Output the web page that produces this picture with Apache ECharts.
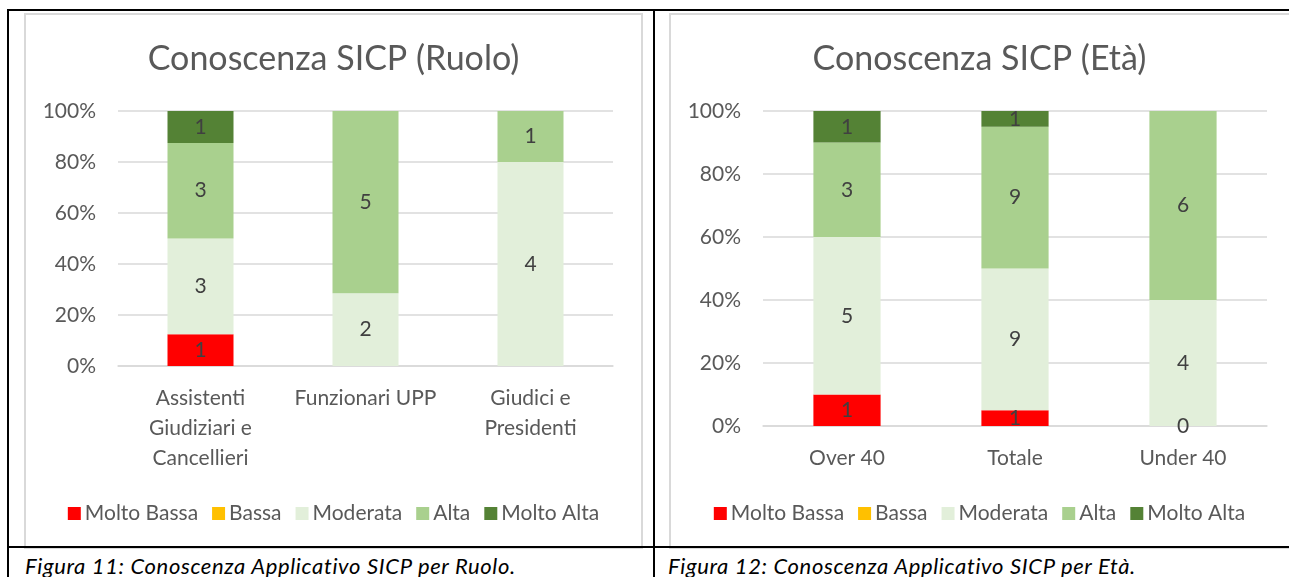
<!DOCTYPE html>
<html lang="it">
<head>
<meta charset="UTF-8" />
<title>Conoscenza SICP</title>
<style>
  body { margin: 0; background: #fff; }
  #page { position: relative; width: 1289px; height: 577px; overflow: hidden; font-family: Lato, "Liberation Sans", sans-serif; }
  .line { position: absolute; background: #000; }
  .frame { position: absolute; border: 2px solid #d9d9d9; box-sizing: border-box; }
  .chart { position: absolute; }
  .caption { position: absolute; font-style: italic; font-size: 22px; letter-spacing: 0.65px; color: #000; white-space: nowrap; }
</style>
</head>
<body>
<div id="page">
  <!-- cornici dei grafici -->
  <div class="frame" style="left:24px; top:13px; width:619px; height:536px"></div>
  <div class="frame" style="left:669px; top:13px; width:640px; height:536px"></div>
  <!-- grafici -->
  <div id="ruolo" class="chart" style="left:25px; top:14px; width:617px; height:533px"></div>
  <div id="eta" class="chart" style="left:670px; top:14px; width:619px; height:533px"></div>
  <!-- bordi della tabella -->
  <div class="line" style="left:7px; top:9px; width:1282px; height:2px"></div>
  <div class="line" style="left:7px; top:9px; width:2px; height:568px"></div>
  <div class="line" style="left:653px; top:9px; width:2px; height:568px"></div>
  <div class="line" style="left:7px; top:546px; width:1282px; height:2px"></div>
  <!-- didascalie -->
  <div class="caption" style="left:25px; top:552px">Figura 11: Conoscenza Applicativo SICP per Ruolo.</div>
  <div class="caption" style="left:668px; top:552px">Figura 12: Conoscenza Applicativo SICP per Età.</div>
</div>
<script src="https://cdn.jsdelivr.net/npm/echarts@6/dist/echarts.min.js"></script>
<script>
  // livelli di conoscenza (legenda)
  const levels = ["Molto Bassa", "Bassa", "Moderata", "Alta", "Molto Alta"];
  const levelColors = ["#ff0000", "#ffc000", "#e2efda", "#a9d08e", "#548235"];

  // Figura 11 - per ruolo (conteggi)
  const ruoloCats = ["Assistenti\nGiudiziari e\nCancellieri", "Funzionari UPP", "Giudici e\nPresidenti"];
  const ruoloMoltoBassa = [1, null, null];
  const ruoloBassa = [null, null, null];
  const ruoloModerata = [3, 2, 4];
  const ruoloAlta = [3, 5, 1];
  const ruoloMoltoAlta = [1, null, null];

  // Figura 12 - per età (conteggi)
  const etaCats = ["Over 40", "Totale", "Under 40"];
  const etaMoltoBassa = [1, 1, 0];
  const etaBassa = [null, null, null];
  const etaModerata = [5, 9, 4];
  const etaAlta = [3, 9, 6];
  const etaMoltoAlta = [1, 1, null];

  const yTicks = [0, 0.2, 0.4, 0.6, 0.8, 1];

  const textColor = "#595959";
  const font = "Lato, 'Liberation Sans', sans-serif";

  // crea le serie in percentuale, etichette con i conteggi
  function buildSeries(groups) {
    const totals = groups[0].map((_, j) =>
      groups.reduce((s, g) => s + (g[j] || 0), 0));
    return groups.map((g, i) => ({
      name: levels[i],
      type: "bar",
      stack: "tot",
      barWidth: "40%",
      itemStyle: { color: levelColors[i] },
      label: {
        show: true,
        position: "inside",
        color: "#404040",
        fontSize: 21,
        fontFamily: font,
        formatter: (p) => (g[p.dataIndex] == null ? "" : String(g[p.dataIndex]))
      },
      data: g.map((v, j) => (v == null ? "-" : v / totals[j]))
    }));
  }

  function makeOption(title, cats, groups, gridWidth, gridHeight) {
    return {
      animation: false,
      title: {
        text: title,
        left: "center",
        top: 23,
        textStyle: { color: textColor, fontSize: 34, fontWeight: "normal", fontFamily: font }
      },
      legend: {
        data: levels,
        left: "center",
        top: 484,
        icon: "rect",
        itemWidth: 13,
        itemHeight: 13,
        itemGap: 14,
        selectedMode: false,
        textStyle: { color: textColor, fontSize: 21, fontFamily: font, padding: [0, 0, 0, -1] }
      },
      grid: { left: 93, top: 97, width: gridWidth, height: gridHeight },
      xAxis: {
        type: "category",
        data: cats,
        axisLine: { lineStyle: { color: "#d9d9d9", width: 1.5 } },
        axisTick: { show: false },
        axisLabel: { color: textColor, fontSize: 21, fontFamily: font, lineHeight: 30, margin: 17, interval: 0 }
      },
      yAxis: {
        type: "value",
        min: yTicks[0],
        max: yTicks[yTicks.length - 1],
        interval: 0.2,
        axisLine: { show: false },
        axisTick: { show: false },
        splitLine: { lineStyle: { color: "#d9d9d9", width: 1.5 } },
        axisLabel: {
          color: textColor, fontSize: 21, fontFamily: font, margin: 22,
          formatter: (v) => Math.round(v * 100) + "%"
        }
      },
      series: buildSeries(groups)
    };
  }

  const chartRuolo = echarts.init(document.getElementById("ruolo"));
  chartRuolo.setOption(makeOption("Conoscenza SICP (Ruolo)", ruoloCats,
    [ruoloMoltoBassa, ruoloBassa, ruoloModerata, ruoloAlta, ruoloMoltoAlta], 495, 255));

  const chartEta = echarts.init(document.getElementById("eta"));
  chartEta.setOption(makeOption("Conoscenza SICP (Età)", etaCats,
    [etaMoltoBassa, etaBassa, etaModerata, etaAlta, etaMoltoAlta], 504, 315));
</script>
</body>
</html>
